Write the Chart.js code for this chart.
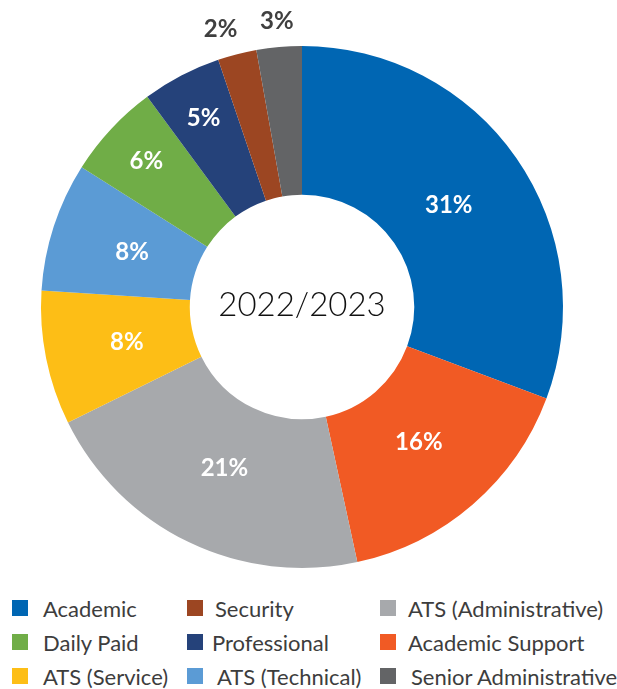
<!DOCTYPE html>
<html>
<head>
<meta charset="utf-8">
<script src="https://cdn.jsdelivr.net/npm/chart.js@4.4.0/dist/chart.umd.min.js"></script>
<style>
  body { margin: 0; background: #fff; width: 617px; height: 689px; overflow: hidden; position: relative; font-family: Lato, "Open Sans", sans-serif; }
  #wrap { position: absolute; left: 0; top: 0; width: 617px; height: 590px; }
  .leg { position: absolute; font-size: 22px; color: #3d3d3d; white-space: nowrap; line-height: 22px; }
  .leg span { position: absolute; left: 0; top: 2px; width: 16px; height: 16px; }
</style>
</head>
<body>
<div id="wrap"><canvas id="myChart"></canvas></div>
<div id="legend"></div>
<script>
var categories = ['Academic', 'Academic Support', 'ATS (Administrative)', 'ATS (Service)', 'ATS (Technical)', 'Daily Paid', 'Professional', 'Security', 'Senior Administrative'];
var values = [30.7, 15.9, 21.1, 8.3, 8.0, 5.9, 4.9, 2.4, 2.8];
var colors = ['#0066b3', '#f15a24', '#a7a9ac', '#fdbe16', '#5b9bd5', '#70ad47', '#25427a', '#9c4622', '#636466'];
var centerText = '2022/2023';
// legend order as in the picture (row by row)
var legendOrder = ['Academic', 'Security', 'ATS (Administrative)', 'Daily Paid', 'Professional', 'Academic Support', 'ATS (Service)', 'ATS (Technical)', 'Senior Administrative'];

var ctx = document.getElementById('myChart').getContext('2d');

var labelPlugin = {
    id: 'pctLabels',
    afterDatasetsDraw: function(chart) {
        var c = chart.ctx;
        var meta = chart.getDatasetMeta(0);
        c.save();
        c.textAlign = 'center';
        c.textBaseline = 'middle';
        meta.data.forEach(function(arc, i) {
            var v = values[i];
            var txt = Math.round(v) + '%';
            var mid = (arc.startAngle + arc.endAngle) / 2;
            var r, x, y;
            c.font = 'bold 24px Lato, sans-serif';
            if (v < 4) {
                // small slices: label outside, above the ring
                r = arc.outerRadius + 26;
                x = arc.x + Math.cos(mid) * r;
                y = arc.y + Math.sin(mid) * r;
                if (i == 7) x -= 10;
                c.fillStyle = '#404040';
            } else {
                r = v < 7 ? arc.outerRadius - 48 : (arc.innerRadius + arc.outerRadius) / 2 - 8;
                x = arc.x + Math.cos(mid) * r;
                y = arc.y + Math.sin(mid) * r;
                c.fillStyle = '#ffffff';
            }
            c.fillText(txt, x, y);
        });
        // center title
        var a0 = meta.data[0];
        c.fillStyle = '#111';
        c.font = '300 33px Lato, sans-serif';
        c.fillText(centerText, a0.x, a0.y - 2);
        c.restore();
    }
};

var chart = new Chart(ctx, {
    type: 'doughnut',
    data: {
        labels: categories,
        datasets: [{
            data: values,
            backgroundColor: colors,
            borderWidth: 0
        }]
    },
    options: {
        responsive: true,
        maintainAspectRatio: false,
        animation: false,
        cutout: '43%',
        layout: { padding: { left: 41, right: 54, top: 46, bottom: 22 } },
        plugins: {
            legend: { display: false },
            tooltip: { enabled: false }
        }
    },
    plugins: [labelPlugin]
});

// html legend, 3 columns
var colX = [12, 187, 380];
var textX = [[31, 31, 31], [28, 25, 30], [28, 28, 31]];
var rowY = [598, 632, 666];
var lg = document.getElementById('legend');
legendOrder.forEach(function(name, k) {
    var row = Math.floor(k / 3), col = k % 3;
    var idx = categories.indexOf(name);
    var d = document.createElement('div');
    d.className = 'leg';
    d.style.left = colX[col] + 'px';
    d.style.top = rowY[row] + 'px';
    d.style.paddingLeft = textX[col][row] + 'px';
    d.innerHTML = '<span style="background:' + colors[idx] + '"></span>' + name;
    lg.appendChild(d);
});
</script>
</body>
</html>
